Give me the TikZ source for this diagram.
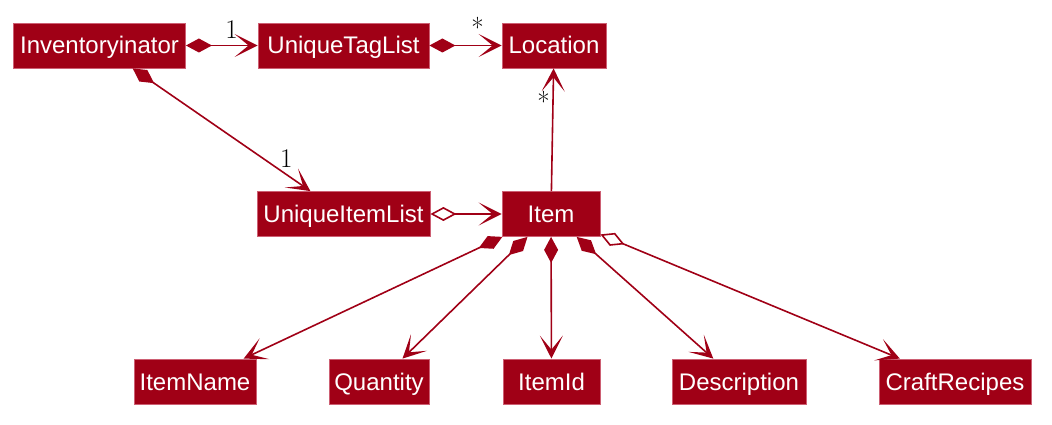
\documentclass[tikz,border=0pt]{standalone}
\usepackage{fontspec}
\newfontfamily\boxfont{Liberation Sans}
\usetikzlibrary{arrows.meta}
\definecolor{Crimson}{RGB}{160,0,22}
\definecolor{Rim}{RGB}{205,95,115}
\newcommand\mult[1]{\fontsize{27}{30}\selectfont #1}

\begin{document}
\begin{tikzpicture}[x=1pt,y=-1pt,
  cls/.style={draw=Rim,line width=0.8pt,fill=Crimson,text=white,
    font=\boxfont\fontsize{24}{28}\selectfont,minimum height=45pt,inner sep=0pt,
    text height=17pt,text depth=0pt},
  link/.style={Crimson,line width=1.6pt},
  comp/.style={link,{Diamond[length=26pt,width=14pt]}-{Stealth[length=23pt,width=23pt,inset=14pt]}},
  aggr/.style={link,{Diamond[fill=white,length=26pt,width=14pt]}-{Stealth[length=23pt,width=23pt,inset=14pt]}},
  assoc/.style={link,-{Stealth[length=23pt,width=23pt,inset=14pt]}},
  lbl/.style={inner sep=0pt,text=black,font=\mult{}}]
\useasboundingbox (0,0) rectangle (1052,425);
\node[cls,minimum width=172pt] (Inv) at (99.5,45.5) {Inventoryinator};
\node[cls,minimum width=171pt] (TagList) at (343.5,45.5) {UniqueTagList};
\node[cls,minimum width=104pt] (Loc) at (554,45.5) {Location};
\node[cls,minimum width=173pt] (ItemList) at (343.5,214) {UniqueItemList};
\node[cls,minimum width=98pt] (Item) at (551,214) {Item};
\node[cls,minimum width=122pt] (Name) at (195,381.5) {ItemName};
\node[cls,minimum width=100pt] (Qty) at (379,381.5) {Quantity};
\node[cls,minimum width=97pt] (Id) at (551.5,381.5) {ItemId};
\node[cls,minimum width=134pt] (Desc) at (739,381.5) {Description};
\node[cls,minimum width=152pt] (Recipes) at (955,381.5) {CraftRecipes};

\draw[comp] (Inv) -- (TagList) node[lbl,at end,xshift=-26pt,yshift=16pt] (OneTag) {1};
\draw[comp] (TagList) -- (Loc) node[lbl,at end,xshift=-24pt,yshift=18pt] (StarTag) {*};
\draw[comp] (Inv) -- (ItemList) node[lbl,at end,xshift=-24pt,yshift=33pt] (OneItem) {1};
\draw[assoc] (Item) -- (Loc) node[lbl,at end,xshift=-10pt,yshift=-33pt] (StarLoc) {*};
\draw[aggr] (ItemList) -- (Item);
\draw[comp] (Item) -- (Name);
\draw[comp] (Item) -- (Qty);
\draw[comp] (Item) -- (Id);
\draw[comp] (Item) -- (Desc);
\draw[aggr] (Item) -- (Recipes);
\end{tikzpicture}
\end{document}
